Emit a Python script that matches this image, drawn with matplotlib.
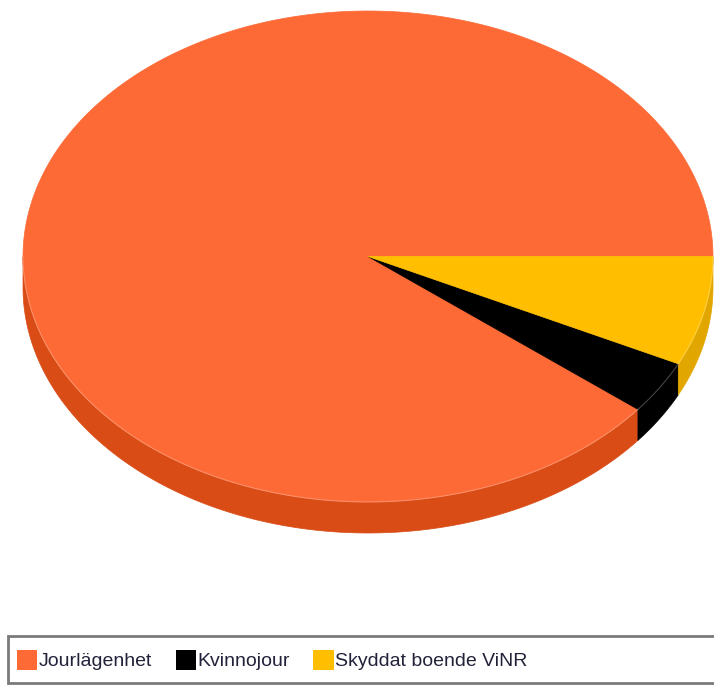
import numpy as np
import matplotlib.pyplot as plt
from matplotlib.patches import Polygon, Patch, Rectangle

# shares
labels = ['Jourlägenhet', 'Kvinnojour', 'Skyddat boende ViNR']
values = [89.3, 3.5, 7.2]
top_colors = ['#FD6A36', '#000000', '#FFBF00']
side_colors = ['#DA4C16', '#000000', '#E2A600']

# ellipse geometry in pixels
cx, cy, rx, ry, depth = 368, 256.5, 345, 245.5, 31

fig = plt.figure(figsize=(7.14, 6.85), dpi=100)
ax = fig.add_axes([0, 0, 1, 1])
ax.set_xlim(0, 714)
ax.set_ylim(685, 0)
ax.axis('off')


def arc(t0, t1, dz=0, n=300):
    t = np.radians(np.linspace(t0, t1, n))
    return np.column_stack([cx + rx * np.cos(t), cy + ry * np.sin(t) + dz])


fracs = np.array(values) / sum(values)
ends = np.cumsum(fracs) * 360
starts = ends - fracs * 360

# slices run counter-clockwise from 3 o'clock; y axis points down,
# so screen angle t = 360 - theta
spans = [(360 - e, 360 - s) for s, e in zip(starts, ends)]

# side rim (front half only)
for (a, b), col in zip(spans, side_colors):
    lo, hi = max(a, 0), min(b, 180)
    if hi <= lo:
        continue
    top = arc(lo, hi)
    bot = arc(hi, lo, dz=depth)
    ax.add_patch(Polygon(np.vstack([top, bot]), closed=True,
                         facecolor=col, edgecolor=col, lw=0.5))
    ax.plot(top[:, 0], top[:, 1], color='white', alpha=0.25, lw=0.8)

# top faces
for (a, b), col in zip(spans, top_colors):
    poly = np.vstack([[cx, cy], arc(a, b)])
    ax.add_patch(Polygon(poly, closed=True, facecolor=col,
                         edgecolor=col, lw=0.5))

# legend
ax.add_patch(Rectangle((8, 636), 712, 47, facecolor='white',
                       edgecolor='#7a7a7a', lw=2))
handles = [Patch(facecolor=c, edgecolor='none') for c in top_colors]
ax.legend(handles, labels, loc='center left',
          bbox_to_anchor=(17 / 714, 1 - 660 / 685), ncol=3, frameon=False,
          prop={'family': 'Liberation Sans', 'size': 14},
          labelcolor='#22223a', handlelength=1.05, handleheight=1.25,
          handletextpad=0.08, columnspacing=1.2, borderpad=0,
          borderaxespad=0)

fig.savefig('out.png', dpi=100)
